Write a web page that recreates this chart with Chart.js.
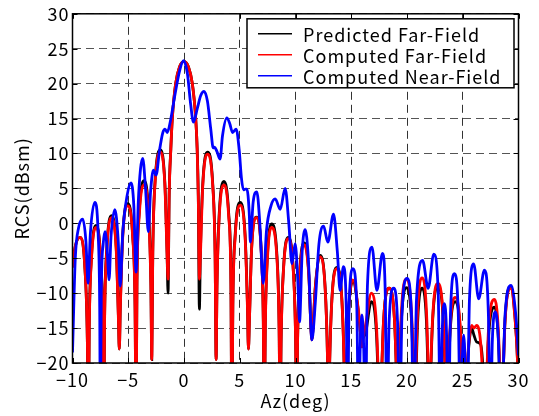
<!DOCTYPE html>
<html><head><meta charset="utf-8">
<script src="https://cdn.jsdelivr.net/npm/chart.js@4/dist/chart.umd.min.js"></script>
<style>html,body{margin:0;padding:0;background:#fff;overflow:hidden}#wrap{width:539px;height:416px}</style>
</head><body><div id="wrap"><canvas id="c" width="539" height="416"></canvas></div>
<script>
const xTickLabels = ['\u221210','\u22125','0','5','10','15','20','25','30'];
const yTickLabels = ['\u221220','\u221215','\u221210','\u22125','0','5','10','15','20','25','30'];
const seriesNames = ['Predicted Far-Field','Computed Far-Field','Computed Near-Field'];
const xTitle = 'Az(deg)';
const yTitle = 'RCS(dBsm)';

// azimuth samples (deg) read for the two far-field curves
const azFar = [
 -10,-9.75,-9.33,-8.88,-8.67,-8.58,
 -8.50,-8.30,-7.89,-7.48,-7.28,-7.20,
 -7.12,-6.92,-6.50,-6.08,-5.88,-5.80,
 -5.71,-5.50,-5.05,-4.60,-4.39,-4.30,
 -4.22,-4.02,-3.60,-3.17,-2.97,-2.89,
 -2.80,-2.60,-2.10,-1.72,-1.52,-1.43,
 -1.33,-1.18,-1.05,-0.75,-0.40,0,0.40,0.75,1.05,1.18,1.28,1.38,
 1.47,1.68,2.10,2.58,2.79,2.88,
 2.96,3.16,3.58,4.01,4.21,4.29,
 4.38,4.59,5.03,5.48,5.69,5.78,
 5.87,6.06,6.49,6.92,7.11,7.20,
 7.29,7.48,7.85,8.34,8.53,8.62,
 8.71,8.92,9.33,9.80,10.01,10.10,
 10.18,10.37,10.80,11.20,11.39,11.47,
 11.56,11.77,12.20,12.66,12.87,12.96,
 13.05,13.26,13.70,14.16,14.37,14.46,
 14.55,14.76,15.15,15.66,15.87,15.96,
 16.06,16.28,16.80,17.26,17.48,17.58,
 17.68,17.90,18.40,18.88,19.10,19.20,
 19.29,19.50,19.92,20.40,20.61,20.70,
 20.78,20.96,21.35,21.74,21.92,22.00,
 22.09,22.31,22.75,23.24,23.46,23.55,
 23.64,23.86,24.30,24.79,25.01,25.10,
 25.30,25.50,25.80,26.00,26.25,26.60,26.85,27.00,
 27.09,27.30,27.85,28.20,28.41,28.50,
 28.59,28.80,29.30,29.70,29.92,30.00
];
const rcsPredictedFar = [
 -6.3,-3.3,-2.0,-6.6,-16.6,-30,
 -14.9,-4.9,-0.3,-4.9,-14.9,-30,
 -13.5,-3.5,1.1,-3.5,-13.5,-18,
 -11.8,-1.8,2.8,-1.8,-11.8,-30,
 -8.5,1.5,6.1,1.5,-8.5,-19.5,
 -4.1,5.9,10.5,5.9,-4.1,-10,
 4,10.7,15,20,22.4,23.2,22.4,20,15,10.7,4,-12.3,
 -4.4,5.6,10.2,5.6,-4.4,-19.5,
 -8.6,1.4,6.0,1.4,-8.6,-30,
 -11.6,-1.6,3.0,-1.6,-11.6,-18,
 -13.7,-3.7,0.9,-3.7,-13.7,-30,
 -14.7,-4.7,-0.1,-4.7,-14.7,-30,
 -16.6,-6.6,-2.0,-6.6,-16.6,-30,
 -17.4,-7.4,-2.8,-7.4,-15.2,-16.7,
 -15.2,-9.2,-4.6,-9.2,-19.2,-30,
 -20.9,-10.9,-6.3,-10.9,-20.9,-30,
 -22.9,-12.9,-8.3,-12.9,-16.5,-17.7,
 -16.5,-15.8,-11.2,-15.8,-25.8,-30,
 -23.9,-13.9,-9.3,-13.9,-23.9,-30,
 -23.8,-13.8,-9.2,-13.8,-23.8,-30,
 -23.9,-13.9,-9.3,-13.9,-23.9,-30,
 -23.6,-13.6,-9.0,-13.6,-23.6,-30,
 -25.8,-15.8,-11.2,-15.8,-25.8,-30,
 -24,-18.4,-15.0,-16.0,-17.0,-17.3,-22,-30,
 -26.6,-16.6,-12.0,-16.6,-26.6,-30,
 -23.7,-13.7,-9.1,-13.7,-20,-25
];
const rcsComputedFar = [
 -6.3,-3.3,-2.0,-6.6,-16.6,-30,
 -15.2,-5.2,-0.6,-5.2,-15.2,-30,
 -13.8,-3.8,0.8,-3.8,-13.8,-18,
 -12.1,-2.1,2.5,-2.1,-12.1,-30,
 -9.1,0.9,5.5,0.9,-9.1,-19.5,
 -4.4,5.6,10.2,5.6,-4.4,-8,
 4,10.7,15,20,22.4,23.2,22.4,20,15,10.7,4,-8,
 -4.7,5.3,9.9,5.3,-4.7,-19.5,
 -9.1,0.9,5.5,0.9,-9.1,-30,
 -12.0,-2.0,2.6,-2.0,-12.0,-18,
 -13.8,-3.8,0.8,-3.8,-13.8,-30,
 -15.2,-5.2,-0.6,-5.2,-15.2,-30,
 -16.8,-6.8,-2.2,-6.8,-16.8,-30,
 -17.7,-7.7,-3.1,-7.7,-15.2,-16.7,
 -15.2,-9.4,-4.8,-9.4,-19.4,-30,
 -21.1,-11.1,-6.5,-11.1,-21.1,-30,
 -22.7,-12.7,-8.1,-12.7,-16.5,-17.7,
 -16.5,-14.6,-10.0,-14.6,-24.6,-30,
 -23.9,-13.9,-9.3,-13.9,-23.9,-30,
 -22.6,-12.6,-8.0,-12.6,-22.6,-30,
 -22.4,-12.4,-7.8,-12.4,-22.4,-30,
 -23.2,-13.2,-8.6,-13.2,-23.2,-30,
 -25.2,-15.2,-10.6,-15.2,-25.2,-30,
 -24,-18,-14.6,-15.0,-14.6,-17,-24,-30,
 -25.5,-15.5,-10.9,-15.5,-25.5,-30,
 -23.9,-13.9,-9.3,-13.9,-20,-25
];

// azimuth samples (deg) read for the near-field curve
const azNear = [
 -10,-9.75,-9.45,-9.08,-8.8,-8.6,
 -8.4,-8.0,-7.7,-7.56,-7.5,
 -7.42,-7.25,-7.08,-6.9,-6.72,
 -6.55,-6.2,-5.9,-5.72,
 -5.5,-5.1,-4.75,-4.5,-4.3,
 -4.1,-3.9,-3.7,-3.45,-3.2,
 -3.0,-2.74,-2.5,
 -2.2,-1.9,-1.7,-1.5,
 -1.2,-0.8,-0.4,-0.05,
 0.3,0.6,0.85,
 1.2,1.5,1.8,
 2.1,2.4,2.62,2.75,2.95,3.24,
 3.45,3.84,4.1,4.35,4.68,
 4.95,5.15,5.33,5.5,5.64,5.85,5.95,
 6.2,6.53,6.8,7.1,
 7.4,7.8,8.18,8.63,9.07,
 9.4,9.68,9.97,10.2,10.36,
 10.6,10.87,11.15,11.47,11.77,
 12.1,12.52,12.9,13.41,13.75,14.0,14.3,
 14.55,14.67,14.8,15.15,15.5,15.66,
 15.8,15.96,16.12,16.26,
 16.45,16.86,17.3,17.8,18.05,18.2,
 18.4,18.8,19.15,19.34,
 19.55,20.0,20.4,20.6,
 20.85,21.4,21.9,22.4,22.8,23.0,
 23.15,23.35,23.55,23.7,
 23.9,24.25,24.6,24.8,
 24.95,25.08,25.22,25.38,
 25.6,25.98,26.43,26.94,27.3,27.48,
 27.65,27.93,28.2,28.44,
 28.8,29.33,29.75,30
];
const rcsComputedNear = [
 -18.5,-5,-0.6,0.6,-2.5,-8.6,
 -1.5,3.0,-1.5,-12,-30,
 -10,-3,-1.2,-3.5,-8.1,
 -2,1.95,-2.5,-9.0,
 -1.5,4.0,5.8,2.5,-7,
 3,7.8,9.3,5,-1.2,
 4.5,7.6,6.9,
 10.4,13.0,13.5,13.0,
 14.8,18.5,21.8,23.3,
 21.5,17,14.5,
 16.5,18.3,18.9,
 17.5,13.5,10.8,10.9,10.3,9.2,
 12.5,15.1,14.3,13.0,13.5,
 10.5,6.5,4.8,4.9,4.9,1.5,-2.7,
 3.0,4.5,0,-8.6,
 -1,2.5,3.5,2.0,5.0,
 0,-5.8,-2.9,-8,-14.1,
 -4,-0.9,-5,-16.7,-11.5,
 -3,-0.4,-2.7,1.3,-4,-9.6,-6.2,
 -12,-30,-12,-6.5,-12,-30,
 -18,-13.1,-18,-30,
 -9,-3.4,-9.6,-4.3,-10,-30,
 -14,-9.3,-14,-30,
 -13,-7.9,-13,-30,
 -11,-5.3,-9.3,-4.4,-10,-30,
 -16,-11.5,-16,-30,
 -13,-7.2,-13,-30,
 -20,-16,-20,-30,
 -11,-5.8,-10.8,-6.7,-13,-30,
 -17,-12.7,-17,-30,
 -13,-8.9,-13,-18.9
];

const seriesColors = ['#000000','#ff0000','#0000ff'];

function pts(xs, ys){ return xs.map((x,i)=>({x:x, y:ys[i]})); }

const FONT = "'Noto Sans CJK JP', 'Noto Sans', sans-serif";

const spacingPlugin = {
  id: 'spacing',
  beforeDraw(chart){ chart.ctx.letterSpacing = '1px'; }
};

const framePlugin = {
  id: 'frameLegend',
  afterDatasetsDraw(chart){
    const ctx = chart.ctx;
    const a = chart.chartArea;
    const xs = chart.scales.x, ys = chart.scales.y;
    ctx.save();
    ctx.strokeStyle = '#000';
    ctx.lineWidth = 1;
    ctx.setLineDash([]);
    xs.ticks.forEach(t=>{
      const p = Math.round(xs.getPixelForValue(t.value))+0.5;
      ctx.beginPath(); ctx.moveTo(p,a.top); ctx.lineTo(p,a.top+5);
      ctx.moveTo(p,a.bottom); ctx.lineTo(p,a.bottom-5); ctx.stroke();
    });
    ys.ticks.forEach(t=>{
      const p = Math.round(ys.getPixelForValue(t.value))+0.5;
      ctx.beginPath(); ctx.moveTo(a.left,p); ctx.lineTo(a.left+5,p);
      ctx.moveTo(a.right,p); ctx.lineTo(a.right-5,p); ctx.stroke();
    });
    ctx.lineWidth = 1.5;
    ctx.strokeRect(a.left, a.top, a.right-a.left, a.bottom-a.top);
    const bx = a.left + 174.5, by = a.top + 5, bw = 267, bh = 69;
    ctx.fillStyle = '#fff';
    ctx.fillRect(bx, by, bw, bh);
    ctx.lineWidth = 1.5;
    ctx.strokeRect(bx, by, bw, bh);
    ctx.font = '18px ' + FONT;
    ctx.letterSpacing = '1px';
    ctx.textBaseline = 'middle';
    ctx.textAlign = 'left';
    for (let i=0;i<seriesNames.length;i++){
      const yy = by + 15 + i*21;
      ctx.strokeStyle = seriesColors[i];
      ctx.lineWidth = 1.5;
      ctx.beginPath(); ctx.moveTo(bx+11, yy); ctx.lineTo(bx+45, yy); ctx.stroke();
      ctx.fillStyle = '#000';
      ctx.fillText(seriesNames[i], bx+56, yy+1);
    }
    ctx.restore();
  }
};

Chart.defaults.font.family = FONT;
Chart.defaults.font.size = 18;
Chart.defaults.color = '#000';

new Chart(document.getElementById('c'), {
  type: 'line',
  data: {
    datasets: [
      {label: seriesNames[0], data: pts(azFar, rcsPredictedFar), borderColor: seriesColors[0], order: 3},
      {label: seriesNames[1], data: pts(azFar, rcsComputedFar), borderColor: seriesColors[1], order: 2},
      {label: seriesNames[2], data: pts(azNear, rcsComputedNear), borderColor: seriesColors[2], order: 1}
    ].map(d=>Object.assign(d,{borderWidth:2.8, pointRadius:0, fill:false, cubicInterpolationMode:'monotone', clip:0}))
  },
  options: {
    responsive: false,
    animation: false,
    devicePixelRatio: 1,
    layout: {padding: {left:0, top:13, right:20.5, bottom:0}},
    plugins: {legend:{display:false}, tooltip:{enabled:false}},
    scales: {
      x: {
        type: 'linear', min: -10, max: 30,
        afterFit: s => { s.height = 53; },
        ticks: {stepSize: 5, padding: 6, maxRotation: 0, callback: (v,i)=>xTickLabels[i]},
        grid: {color: '#333', lineWidth: 1, drawTicks: false},
        border: {display: false, dash: [8,5]},
        title: {display: true, text: xTitle, padding: {top:0, bottom:4}}
      },
      y: {
        type: 'linear', min: -20, max: 30,
        afterFit: s => { s.width = 72.5; },
        ticks: {stepSize: 5, padding: 3, callback: (v,i)=>yTickLabels[i]},
        grid: {color: '#555', lineWidth: 1, drawTicks: false},
        border: {display: false, dash: [8,5]},
        title: {display: true, text: yTitle, padding: {top:11, bottom:0}}
      }
    }
  },
  plugins: [spacingPlugin, framePlugin]
});
</script></body></html>
